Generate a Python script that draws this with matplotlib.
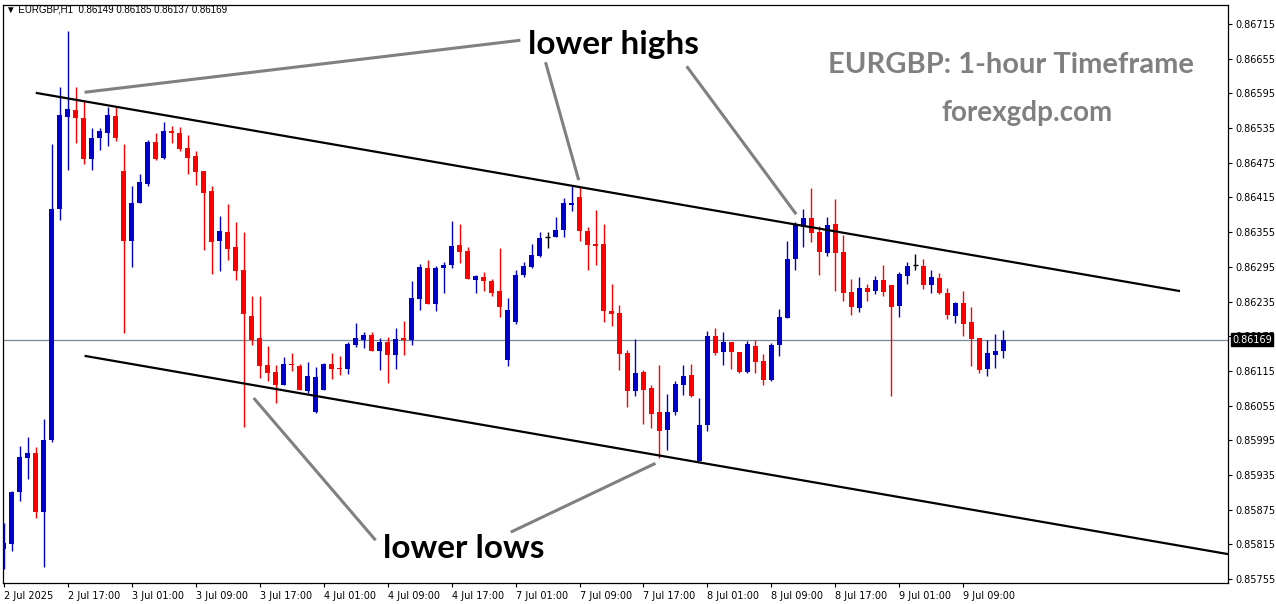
import matplotlib
matplotlib.use('Agg')
import matplotlib.pyplot as plt
import matplotlib.transforms as mtransforms
import numpy as np

# EURGBP H1 candles, 2 Jul 09:00 -> 9 Jul 14:00 (126 bars)
opens = [
    0.85807, 0.85815, 0.85905, 0.85965, 0.85973, 0.85871, 0.85995, 0.86395, 0.86554, 0.86566,
    0.86552, 0.86481, 0.86518, 0.86526, 0.86556, 0.86461, 0.86340, 0.86405, 0.86439, 0.86511,
    0.86484, 0.86530, 0.86526, 0.86500, 0.86487, 0.86461, 0.86426, 0.86340, 0.86355, 0.86329,
    0.86289, 0.86210, 0.86172, 0.86125, 0.86113, 0.86090, 0.86127, 0.86123, 0.86081, 0.86044,
    0.86082, 0.86127, 0.86120, 0.86118, 0.86160, 0.86168, 0.86177, 0.86149, 0.86165, 0.86142,
    0.86172, 0.86168, 0.86239, 0.86293, 0.86231, 0.86293, 0.86298, 0.86333, 0.86322, 0.86272,
    0.86277, 0.86270, 0.86253, 0.86134, 0.86199, 0.86281, 0.86295, 0.86314, 0.86346, 0.86346,
    0.86359, 0.86402, 0.86416, 0.86357, 0.86334, 0.86334, 0.86218, 0.86215, 0.86146, 0.86080,
    0.86113, 0.86085, 0.86044, 0.86013, 0.86044, 0.86090, 0.86108, 0.85959, 0.86021, 0.86175,
    0.86148, 0.86165, 0.86148, 0.86113, 0.86158, 0.86132, 0.86099, 0.86160, 0.86206, 0.86308,
    0.86364, 0.86379, 0.86355, 0.86319, 0.86369, 0.86321, 0.86251, 0.86224, 0.86258, 0.86253,
    0.86272, 0.86263, 0.86227, 0.86279, 0.86298, 0.86296, 0.86263, 0.86276, 0.86250, 0.86210,
    0.86232, 0.86199, 0.86172, 0.86118, 0.86142, 0.86149]
highs = [
    0.85852, 0.85907, 0.85985, 0.86001, 0.85983, 0.86032, 0.86507, 0.86606, 0.86703, 0.86606,
    0.86582, 0.86535, 0.86535, 0.86571, 0.86571, 0.86507, 0.86435, 0.86456, 0.86515, 0.86526,
    0.86545, 0.86539, 0.86537, 0.86523, 0.86496, 0.86461, 0.86434, 0.86383, 0.86404, 0.86372,
    0.86355, 0.86244, 0.86244, 0.86158, 0.86125, 0.86139, 0.86146, 0.86127, 0.86130, 0.86122,
    0.86129, 0.86146, 0.86141, 0.86165, 0.86198, 0.86182, 0.86182, 0.86172, 0.86173, 0.86189,
    0.86201, 0.86270, 0.86300, 0.86307, 0.86296, 0.86303, 0.86374, 0.86369, 0.86329, 0.86281,
    0.86286, 0.86274, 0.86327, 0.86241, 0.86289, 0.86303, 0.86334, 0.86355, 0.86355, 0.86381,
    0.86414, 0.86435, 0.86435, 0.86364, 0.86393, 0.86369, 0.86265, 0.86229, 0.86151, 0.86170,
    0.86116, 0.86090, 0.86125, 0.86075, 0.86097, 0.86125, 0.86127, 0.86068, 0.86184, 0.86189,
    0.86182, 0.86165, 0.86148, 0.86167, 0.86168, 0.86144, 0.86163, 0.86222, 0.86340, 0.86372,
    0.86395, 0.86431, 0.86366, 0.86381, 0.86412, 0.86350, 0.86274, 0.86277, 0.86265, 0.86279,
    0.86298, 0.86263, 0.86286, 0.86303, 0.86317, 0.86308, 0.86289, 0.86284, 0.86258, 0.86234,
    0.86253, 0.86225, 0.86172, 0.86168, 0.86179, 0.86185]
lows = [
    0.85772, 0.85803, 0.85890, 0.85928, 0.85861, 0.85776, 0.85992, 0.86376, 0.86462, 0.86509,
    0.86473, 0.86462, 0.86497, 0.86504, 0.86513, 0.86180, 0.86295, 0.86405, 0.86434, 0.86480,
    0.86481, 0.86509, 0.86495, 0.86456, 0.86436, 0.86324, 0.86282, 0.86288, 0.86307, 0.86272,
    0.86018, 0.86159, 0.86103, 0.86098, 0.86060, 0.86090, 0.86115, 0.86082, 0.86077, 0.86042,
    0.86082, 0.86101, 0.86108, 0.86110, 0.86157, 0.86155, 0.86149, 0.86116, 0.86094, 0.86118,
    0.86142, 0.86160, 0.86220, 0.86231, 0.86218, 0.86250, 0.86293, 0.86302, 0.86274, 0.86250,
    0.86253, 0.86244, 0.86208, 0.86123, 0.86196, 0.86277, 0.86293, 0.86312, 0.86327, 0.86346,
    0.86346, 0.86391, 0.86340, 0.86289, 0.86298, 0.86199, 0.86193, 0.86116, 0.86052, 0.86071,
    0.86023, 0.86016, 0.85964, 0.85978, 0.86039, 0.86073, 0.86070, 0.85959, 0.86011, 0.86142,
    0.86125, 0.86118, 0.86111, 0.86111, 0.86111, 0.86090, 0.86097, 0.86141, 0.86206, 0.86289,
    0.86329, 0.86338, 0.86281, 0.86314, 0.86253, 0.86236, 0.86212, 0.86217, 0.86236, 0.86248,
    0.86244, 0.86071, 0.86208, 0.86265, 0.86289, 0.86257, 0.86250, 0.86248, 0.86205, 0.86198,
    0.86175, 0.86124, 0.86111, 0.86106, 0.86120, 0.86137]
closes = [
    0.85817, 0.85905, 0.85966, 0.85973, 0.85871, 0.85995, 0.86395, 0.86558, 0.86568, 0.86552,
    0.86481, 0.86518, 0.86530, 0.86558, 0.86518, 0.86340, 0.86405, 0.86442, 0.86511, 0.86481,
    0.86530, 0.86527, 0.86499, 0.86484, 0.86459, 0.86423, 0.86338, 0.86357, 0.86326, 0.86288,
    0.86213, 0.86168, 0.86124, 0.86111, 0.86091, 0.86127, 0.86125, 0.86082, 0.86106, 0.86104,
    0.86127, 0.86119, 0.86118, 0.86161, 0.86172, 0.86177, 0.86149, 0.86165, 0.86142, 0.86170,
    0.86168, 0.86241, 0.86295, 0.86231, 0.86293, 0.86298, 0.86331, 0.86321, 0.86274, 0.86279,
    0.86270, 0.86250, 0.86225, 0.86220, 0.86281, 0.86296, 0.86315, 0.86345, 0.86346, 0.86359,
    0.86405, 0.86405, 0.86357, 0.86333, 0.86331, 0.86218, 0.86213, 0.86144, 0.86080, 0.86111,
    0.86082, 0.86040, 0.86011, 0.86044, 0.86092, 0.86106, 0.86071, 0.86021, 0.86175, 0.86146,
    0.86165, 0.86148, 0.86113, 0.86161, 0.86130, 0.86099, 0.86160, 0.86208, 0.86308, 0.86367,
    0.86379, 0.86353, 0.86321, 0.86367, 0.86319, 0.86250, 0.86225, 0.86258, 0.86251, 0.86272,
    0.86251, 0.86225, 0.86282, 0.86296, 0.86298, 0.86263, 0.86277, 0.86250, 0.86212, 0.86232,
    0.86196, 0.86170, 0.86116, 0.86146, 0.86149, 0.86169]

time_labels = ['2 Jul 2025', '2 Jul 17:00', '3 Jul 01:00', '3 Jul 09:00', '3 Jul 17:00',
               '4 Jul 01:00', '4 Jul 09:00', '4 Jul 17:00', '7 Jul 01:00', '7 Jul 09:00',
               '7 Jul 17:00', '8 Jul 01:00', '8 Jul 09:00', '8 Jul 17:00', '9 Jul 01:00',
               '9 Jul 09:00']
label_step = 8
price_ticks = [0.85755, 0.85815, 0.85875, 0.85935, 0.85995, 0.86055, 0.86115, 0.86175,
               0.86235, 0.86295, 0.86355, 0.86415, 0.86475, 0.86535, 0.86595, 0.86655, 0.86715]
last_price = 0.86169

# channel lines (bar index, price)
upper_channel = ([4, 147.1], [0.86596, 0.86253])
lower_channel = ([10.1, 153.1], [0.86141, 0.85798])

BULL = '#0000cd'
BEAR = '#ff0000'

fig = plt.figure(figsize=(12.76, 6.04), dpi=100)
ax = fig.add_axes([3 / 1276, 21 / 604, 1225 / 1276, 578 / 604])

o = np.array(opens)
h = np.array(highs)
l = np.array(lows)
c = np.array(closes)
x = np.arange(len(o))
colors = [BULL if cc > oo else (BEAR if cc < oo else 'black') for oo, cc in zip(o, c)]

ax.vlines(x, l, h, colors=colors, lw=1.0, zorder=3)
bottom = np.minimum(o, c)
height = np.maximum(np.abs(c - o), 0.00002)
body = o != c
ax.bar(x[body], height[body], bottom=bottom[body], width=0.62,
       color=[cl for cl, b in zip(colors, body) if b], linewidth=0, zorder=4)
ax.hlines(o[~body], x[~body] - 0.31, x[~body] + 0.31, colors='black', lw=1.0, zorder=4)

# current price line
ax.axhline(last_price, color='#778899', lw=0.9, zorder=2)

# channel
ax.plot(*upper_channel, color='black', lw=1.6, zorder=5, solid_capstyle='butt')
ax.plot(*lower_channel, color='black', lw=1.6, zorder=5, solid_capstyle='butt', clip_on=False)

# pointer lines
grey = '#808080'
for (x0, y0), (x1, y1) in [((10.1, 0.86597), (64.6, 0.86687)),
                           ((67.75, 0.86649), (71.9, 0.86445)),
                           ((85.4, 0.86642), (99.1, 0.86386)),
                           ((31.25, 0.86068), (46.5, 0.85822)),
                           ((63.4, 0.85836), (81.5, 0.85955))]:
    ax.plot([x0, x1], [y0, y1], color=grey, lw=2.2, zorder=6, solid_capstyle='butt')

ax.text(76.3, 0.86679, 'lower highs', ha='center', va='center', fontsize=24,
        fontweight='bold', family='Lato', color='black', zorder=7)
ax.text(57.5, 0.85807, 'lower lows', ha='center', va='center', fontsize=24,
        fontweight='bold', family='Lato', color='black', zorder=7)
ax.text(125.9, 0.86644, 'EURGBP: 1-hour Timeframe', ha='center', va='center', fontsize=21,
        fontweight='bold', family='Lato', color=grey, zorder=7)
ax.text(128.0, 0.86561, 'forexgdp.com', ha='center', va='center', fontsize=20,
        fontweight='bold', family='Lato', color=grey, zorder=7)

ax.set_xlim(-0.1, 153.1)
ax.set_ylim(0.85748, 0.86748)

# axes, MT4 look
ax.yaxis.tick_right()
ax.set_yticks(price_ticks)
ax.set_yticklabels(['%.5f' % p for p in price_ticks])
ax.set_xticks(np.arange(len(time_labels)) * label_step)
ax.set_xticklabels(time_labels, ha='left')
ax.tick_params(axis='both', labelsize=7, length=3, width=0.8, color='black', pad=2)
ax.tick_params(axis='x', pad=3)
for sp in ax.spines.values():
    sp.set_color('black')
    sp.set_linewidth(0.9)

# price tag on the axis
trans = mtransforms.blended_transform_factory(ax.transAxes, ax.transData)
ax.text(1.0035, last_price, '%.5f' % last_price, transform=trans, fontsize=7,
        color='white', ha='left', va='center', zorder=10, clip_on=False,
        bbox=dict(boxstyle='square,pad=0.15', fc='black', ec='black'))

fig.text(6 / 1276, 1 - 10 / 604, '\u25bc EURGBP,H1  0.86149 0.86185 0.86137 0.86169',
         fontsize=7, family=['Liberation Sans', 'DejaVu Sans'], ha='left', va='center',
         color='black')

plt.savefig('out.png', dpi=100)
